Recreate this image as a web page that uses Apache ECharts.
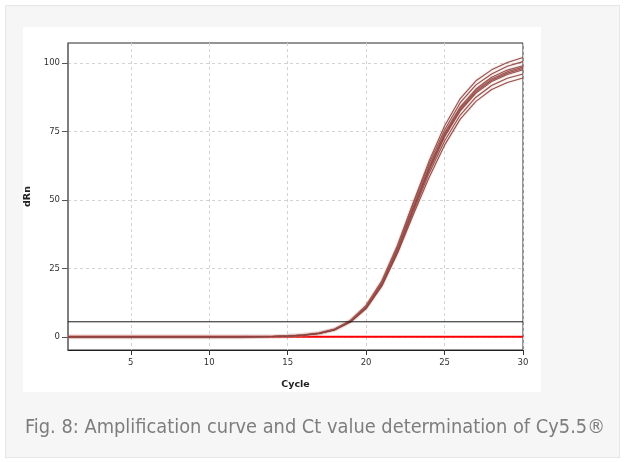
<!DOCTYPE html>
<html>
<head>
<meta charset="utf-8">
<script src="https://cdn.jsdelivr.net/npm/echarts@6/dist/echarts.min.js"></script>
<style>
html,body{margin:0;padding:0;background:#ffffff;width:624px;height:462px;overflow:hidden;}
#outer{position:absolute;left:5px;top:5px;width:613px;height:451px;background:#f6f6f6;border:1px solid #e6e6e6;}
#panel{position:absolute;left:23px;top:27px;width:518px;height:365px;background:#ffffff;}
#chart{position:absolute;left:0;top:0;width:624px;height:462px;}
#caption{position:absolute;left:25px;top:414px;white-space:nowrap;color:#7d7d7d;font-family:"Liberation Sans Narrow","DejaVu Sans Condensed","Open Sans",sans-serif;font-size:20px;transform-origin:0 0;}
</style>
</head>
<body>
<div id="outer"></div>
<div id="panel"></div>
<div id="chart"></div>
<div id="caption">Fig. 8: Amplification curve and Ct value determination of Cy5.5®</div>
<script>
const cycles = [1,2,3,4,5,6,7,8,9,10,11,12,13,14,15,16,17,18,19,20,21,22,23,24,25,26,27,28,29,30];
const xTicks = [5,10,15,20,25,30];
const yTicks = [0,25,50,75,100];
const threshold = 5.5;
const baseline = 0;

const curveA = [0,0,0,0,0,0,0,0,0,0,0,0.02,0.06,0.15,0.32,0.7,1.4,2.9,6.0,11.5,20.5,33.5,49,64,77,87,93.5,97.5,100.2,102];
const curveB = [0,0,0,0,0,0,0,0,0,0,0,0.02,0.05,0.14,0.3,0.68,1.35,2.8,5.9,11.3,20.0,33.0,48.5,63,75.5,85.5,92,96,98.8,100.5];
const curveC = [0,0,0,0,0,0,0,0,0,0,0,0.01,0.05,0.13,0.3,0.66,1.3,2.75,5.8,11.0,19.8,32.5,47.5,62,74.5,84,90.5,94.8,97.4,99];
const curveD = [0,0,0,0,0,0,0,0,0,0,0,0.01,0.05,0.13,0.29,0.65,1.3,2.7,5.7,10.9,19.5,32.0,47,61.5,74,83.5,90,94.2,96.8,98.5];
const curveE = [0,0,0,0,0,0,0,0,0,0,0,0.01,0.04,0.12,0.28,0.64,1.28,2.7,5.7,10.8,19.3,31.8,46.5,61,73.5,83,89.5,93.7,96.3,98];
const curveF = [0,0,0,0,0,0,0,0,0,0,0,0.01,0.04,0.12,0.28,0.63,1.27,2.65,5.6,10.7,19.2,31.5,46.5,60.5,73,82.5,89,93.2,95.8,97.5];
const curveG = [0,0,0,0,0,0,0,0,0,0,0,0,0.04,0.11,0.27,0.6,1.25,2.6,5.5,10.5,18.8,31.0,45.5,59.5,71.5,81,87.5,91.8,94.4,96];
const curveH = [0,0,0,0,0,0,0,0,0,0,0,0,0.03,0.1,0.26,0.58,1.2,2.55,5.4,10.3,18.5,30.5,44.5,58,70,79.5,86,90.3,92.9,94.5];
const curves = [curveA,curveB,curveC,curveD,curveE,curveF,curveG,curveH];

const chart = echarts.init(document.getElementById('chart'), null, {renderer:'canvas'});
const labelFont = {fontFamily:'DejaVu Sans', fontSize:8.5, color:'#333'};

const series = [];
series.push({
  type:'line', data: cycles.map(c=>[c,baseline]), symbol:'none', silent:true, z:1,
  lineStyle:{color:'#ff0000', width:2}
});
series.push({
  type:'line', data: [[cycles[0],threshold],[cycles[cycles.length-1],threshold]], symbol:'none', silent:true, z:3,
  lineStyle:{color:'#1a1a1a', width:1}
});
curves.forEach(function(vals){
  series.push({
    type:'line', symbol:'none', silent:true, z:2,
    data: cycles.map((c,i)=>[c,vals[i]]),
    lineStyle:{color:'#8f3f3a', width:1.1, opacity:0.9, shadowColor:'rgba(185,130,128,0.55)', shadowBlur:2}
  });
});

chart.setOption({
  animation:false,
  backgroundColor:'transparent',
  grid:{left:68, right:101, top:43, bottom:112, show:true, borderColor:'#2a2a2a', borderWidth:1, backgroundColor:'transparent'},
  xAxis:{
    type:'value', min:1, max:30,
    name:'Cycle', nameLocation:'middle', nameGap:30,
    nameTextStyle:{fontFamily:'DejaVu Sans', fontSize:9.5, fontWeight:'bold', color:'#222'},
    axisLine:{onZero:false, lineStyle:{color:'#222', width:1}},
    axisTick:{show:true, length:5, customValues:xTicks, lineStyle:{color:'#333'}},
    axisLabel:{customValues:xTicks, margin:8, ...labelFont},
    splitLine:{show:true, lineStyle:{color:'#d2d2d2', type:[3,3], width:1}}
  },
  yAxis:{
    type:'value', min:-4.8, max:107.3,
    name:'dRn', nameLocation:'middle', nameGap:29,
    nameTextStyle:{fontFamily:'DejaVu Sans', fontSize:9.5, fontWeight:'bold', color:'#222'},
    axisLine:{show:true, onZero:false, lineStyle:{color:'#777', width:1.5}},
    axisTick:{show:true, length:6, customValues:yTicks, lineStyle:{color:'#555'}},
    axisLabel:{customValues:yTicks, margin:8, ...labelFont},
    splitLine:{show:true, lineStyle:{color:'#d2d2d2', type:[3,3], width:1}}
  },
  series: series
});

// fit caption width
const cap = document.getElementById('caption');
const w = cap.getBoundingClientRect().width;
cap.style.transform = 'scaleX(' + (580 / w) + ')';
</script>
</body>
</html>
